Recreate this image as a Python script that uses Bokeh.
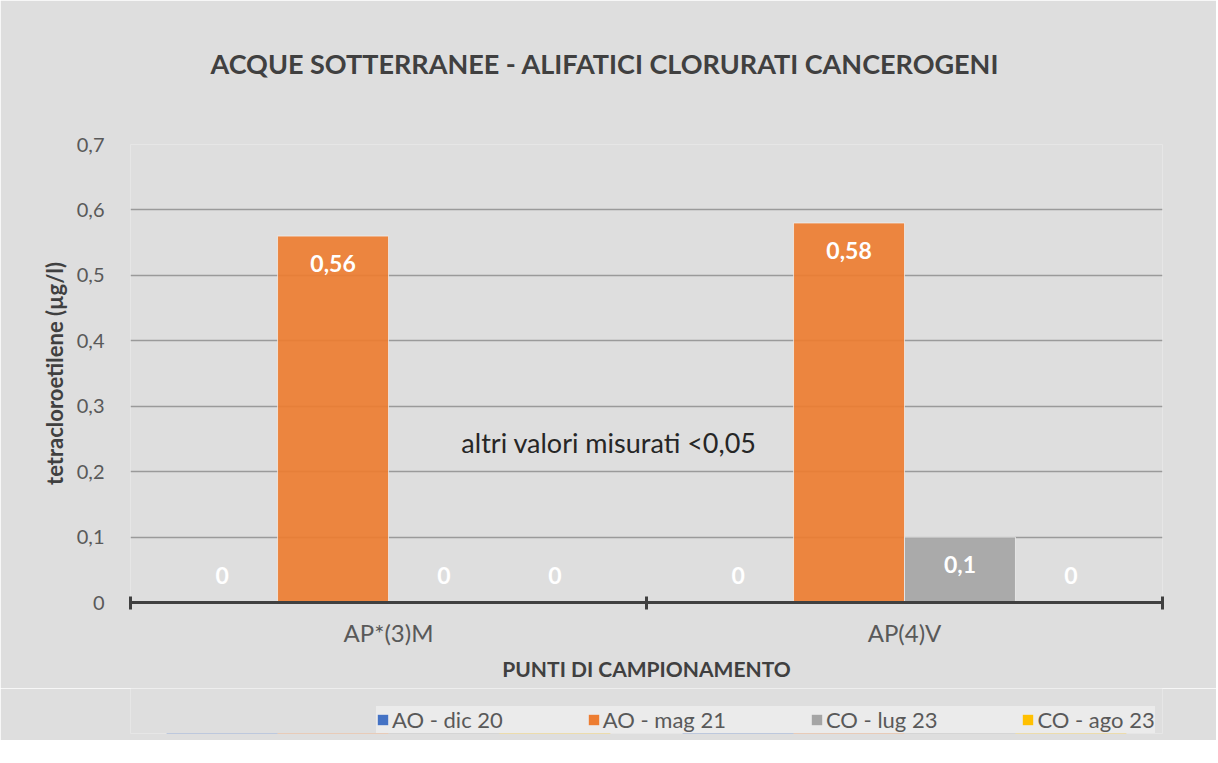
from bokeh.plotting import figure
from bokeh.layouts import column
from bokeh.models import (Range1d, LinearAxis, FixedTicker, Title,
                          ColumnDataSource, Label, Legend, LegendItem, CustomJSTickFormatter)
from bokeh.core.properties import value
from bokeh.embed import file_html
from bokeh.resources import INLINE

# ---- data ----
chart_title = "ACQUE SOTTERRANEE - ALIFATICI CLORURATI CANCEROGENI"
points = ["AP*(3)M", "AP(4)V"]
series_names = ["AO - dic 20", "AO - mag 21", "CO - lug 23", "CO - ago 23"]
ao_dic_20 = [0, 0]
ao_mag_21 = [0.56, 0.58]
co_lug_23 = [0, 0.1]
co_ago_23 = [0, 0]
y_ticks = [0, 0.1, 0.2, 0.3, 0.4, 0.5, 0.6, 0.7]
y_label = "tetracloroetilene (µg/l)"
x_label = "PUNTI DI CAMPIONAMENTO"
note = "altri valori misurati  <0,05"

series_values = [ao_dic_20, ao_mag_21, co_lug_23, co_ago_23]
colors = ["#4472C4", "#ED7D31", "#A5A5A5", "#FFC000"]
FONT = "Lato"
BG = "#dedede"

ncat = len(points)
centers = [k + 0.5 for k in range(ncat)]
n = len(series_names)
bw = 0.215

main = figure(width=1216, height=688,
              x_range=Range1d(0, ncat), y_range=Range1d(0, 0.7),
              output_backend="svg", toolbar_location=None,
              x_axis_location=None, y_axis_location="left",
              min_border_left=130, min_border_right=54,
              min_border_top=144, min_border_bottom=86)
main.background_fill_color = BG
main.border_fill_color = BG
main.outline_line_color = None

# title (spacer panel keeps it at the right height above the frame)
main.add_layout(Title(text=" ", text_font_size="10px", standoff=47), "above")
main.add_layout(Title(text=chart_title, align="left", offset=80, text_font=FONT,
                      text_font_size="27px", text_font_style="bold",
                      text_color="#404040", standoff=10), "above")

# y axis
ya = main.yaxis[0]
ya.ticker = FixedTicker(ticks=y_ticks)
ya.formatter = CustomJSTickFormatter(code="return tick === 0 ? '0' : tick.toFixed(1).replace('.', ',');")
ya.axis_line_color = None
ya.major_tick_line_color = None
ya.minor_tick_line_color = None
ya.major_label_text_font = FONT
ya.major_label_text_font_size = "20px"
ya.major_label_text_color = "#595959"
ya.major_label_standoff = 20
ya.axis_label = y_label
ya.axis_label_text_font = FONT
ya.axis_label_text_font_size = "22px"
ya.axis_label_text_font_style = "bold"
ya.axis_label_text_color = "#404040"
ya.axis_label_standoff = 6

main.ygrid.ticker = FixedTicker(ticks=y_ticks)
main.ygrid.grid_line_color = "#9a9a9a"
main.ygrid.grid_line_width = 1.5
main.xgrid.visible = False

# boundary axis (ticks between categories)
bounds = list(range(ncat + 1))
ba = LinearAxis(ticker=FixedTicker(ticks=bounds))
ba.major_label_overrides = {b: "" for b in bounds}
ba.major_label_text_font_size = "1px"
ba.axis_line_color = "#404040"
ba.axis_line_width = 3
ba.major_tick_line_color = "#404040"
ba.major_tick_line_width = 3
ba.major_tick_in = 6
ba.major_tick_out = 7
ba.minor_tick_line_color = None
ba.major_label_standoff = 0
main.add_layout(ba, "below")

# category axis
ca = LinearAxis(ticker=FixedTicker(ticks=centers))
ca.major_label_overrides = {c: name for c, name in zip(centers, points)}
ca.axis_line_color = None
ca.major_tick_line_color = None
ca.minor_tick_line_color = None
ca.major_label_text_font = FONT
ca.major_label_text_font_size = "24px"
ca.major_label_text_color = "#595959"
ca.major_label_standoff = 2
ca.axis_label = x_label
ca.axis_label_text_font = FONT
ca.axis_label_text_font_size = "21px"
ca.axis_label_text_font_style = "bold"
ca.axis_label_text_color = "#404040"
ca.axis_label_standoff = 6
main.add_layout(ca, "below")

# bars + value labels
for i, (name, vals, col) in enumerate(zip(series_names, series_values, colors)):
    off = (i - (n - 1) / 2) * bw
    src = ColumnDataSource(dict(
        x=[c + off for c in centers], v=vals,
        lab=[("%g" % v).replace(".", ",") for v in vals],
        yo=[27 if v > 0 else -27 for v in vals]))
    main.vbar(x="x", top="v", width=bw, source=src,
              fill_color=col, fill_alpha=0.92, line_color="#f2f2f2", line_width=1, line_alpha=0.7)
    main.text(x="x", y="v", text="lab", source=src,
              y_offset="yo", text_align="center", text_baseline="middle",
              text_color="white", text_font=value(FONT), text_font_style="bold",
              text_font_size="23px")

# note
main.add_layout(Label(x=0.934, y=0.245, text=note,
                      text_align="center", text_baseline="middle",
                      text_font=FONT, text_font_size="27px", text_color="#262626"))

# legend strip (separate figure below the chart, same frame borders)
lf = figure(width=1216, height=52, x_range=Range1d(0, ncat), y_range=Range1d(10, 11),
            output_backend="svg", toolbar_location=None,
            x_axis_location=None, y_axis_location=None,
            min_border_left=130, min_border_right=54, min_border_top=0, min_border_bottom=7)
lf.background_fill_color = BG
lf.border_fill_color = BG
lf.outline_line_color = None
lf.xgrid.visible = False
lf.ygrid.visible = False
items = []
for i, (name, vals, col) in enumerate(zip(series_names, series_values, colors)):
    off = (i - (n - 1) / 2) * bw
    r = lf.vbar(x=[c + off for c in centers], top=vals, width=bw, fill_color=col, line_color=None)
    items.append(LegendItem(label=name, renderers=[r]))
leg = Legend(items=items, orientation="horizontal", location=(246, 0),
             background_fill_color="#ebebeb", background_fill_alpha=1,
             border_line_color=None, label_text_font=FONT,
             label_text_font_size="22px", label_text_color="#595959",
             glyph_width=13, glyph_height=13, spacing=84, padding=10, margin=0,
             label_standoff=3)
lf.add_layout(leg, "center")

p = column(main, lf, spacing=0)
open("out.html", "w").write(file_html(p, INLINE))
